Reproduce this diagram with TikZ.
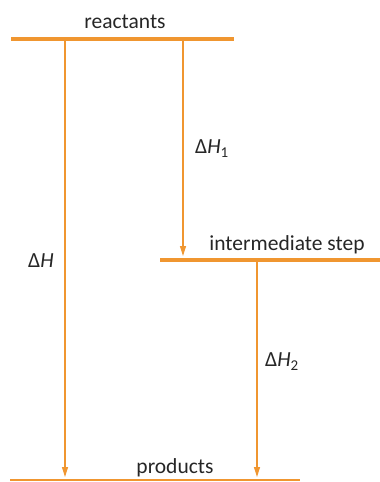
\documentclass[tikz,border=0pt]{standalone}
\usepackage{fontspec}
\setmainfont{Carlito}
\usepackage{xcolor}
\usetikzlibrary{arrows.meta, positioning}
\definecolor{levelorange}{RGB}{240,150,48}
\tikzset{
  level/.style={draw=levelorange, line width=4pt},
  levelthin/.style={draw=levelorange, line width=1.4pt},
  dharrow/.style={draw=levelorange, line width=1.2pt,
    -{Triangle[length=10pt, width=6pt]}, shorten >=2pt},
  lbl/.style={font=\fontsize{21.5}{24}\selectfont, text=black!85, inner sep=0pt},
}
\newcommand{\dH}[1]{Δ\textit{H}\raisebox{-4pt}{\fontsize{15}{15}\selectfont #1}}

\begin{document}
\begin{tikzpicture}[x=1pt, y=-1pt]
\useasboundingbox (0,0) rectangle (380,482);
% energy levels
\coordinate (reacL) at (11,39);
\coordinate (reacR) at (234,39);
\coordinate (intL) at (160,260);
\coordinate (intR) at (380,260);
\coordinate (prodL) at (10,480);
\coordinate (prodR) at (300,480);
\draw[level] (reacL) -- (reacR);
\draw[level] (intL) -- (intR);
\draw[levelthin] (prodL) -- (prodR);
% labels
\node[lbl, anchor=base] (reac) at (125,28) {reactants};
\node[lbl, anchor=base] (inter) at (287,250) {intermediate step};
\node[lbl, anchor=base] (prod) at (175,473) {products};
% arrow ends
\coordinate (a0) at (65,41);
\coordinate (a1) at (65,479);
\coordinate (b0) at (183,41);
\coordinate (b1) at (183,258);
\coordinate (c0) at (257,262);
\coordinate (c1) at (257,479);
% arrows
\draw[dharrow] (a0) -- (a1);
\draw[dharrow] (b0) -- (b1);
\draw[dharrow] (c0) -- (c1);
\node[lbl, anchor=base west] (dhtot) at (28,267) {\dH{}};
\node[lbl, anchor=base west] (dh1) at (195,153) {\dH{1}};
\node[lbl, anchor=base west] (dh2) at (265,366) {\dH{2}};
\end{tikzpicture}
\end{document}
